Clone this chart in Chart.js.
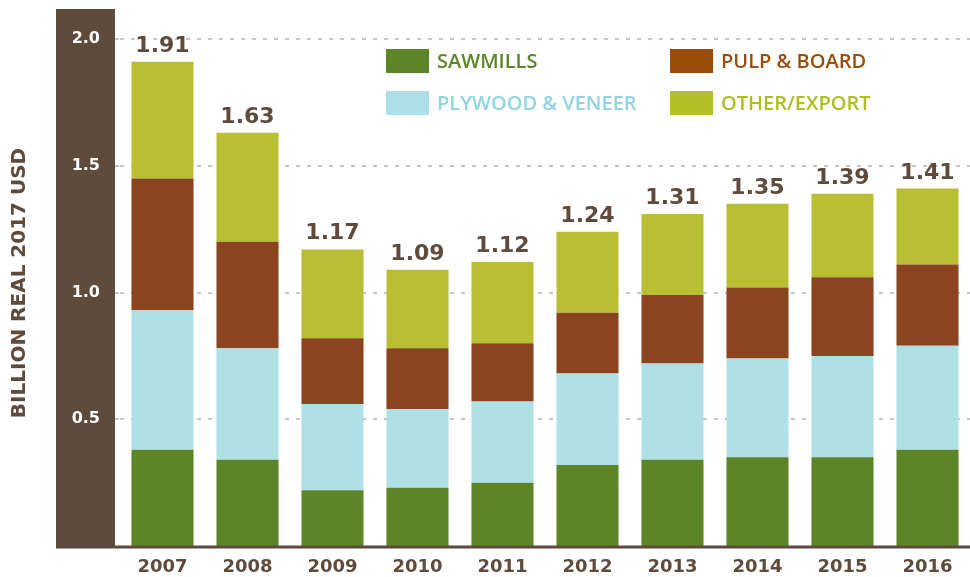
<!DOCTYPE html>
<html>
<head>
<meta charset="utf-8">
<script src="https://cdn.jsdelivr.net/npm/chart.js@4.4.1/dist/chart.umd.min.js"></script>
<style>
    html, body { margin: 0; padding: 0; background: #ffffff; }
    #wrap { width: 970px; height: 577px; position: relative; }
</style>
</head>
<body>
<div id="wrap"><canvas id="chart" width="970" height="577"></canvas></div>
<script>
// Datos (miles de millones, USD reales 2017)
const years = ['2007', '2008', '2009', '2010', '2011', '2012', '2013', '2014', '2015', '2016'];
const sawmills = [0.38, 0.34, 0.22, 0.23, 0.25, 0.32, 0.34, 0.35, 0.35, 0.38];
const plywood = [0.55, 0.44, 0.34, 0.31, 0.32, 0.36, 0.38, 0.39, 0.40, 0.41];
const pulpBoard = [0.52, 0.42, 0.26, 0.24, 0.23, 0.24, 0.27, 0.28, 0.31, 0.32];
const otherExport = [0.46, 0.43, 0.35, 0.31, 0.32, 0.32, 0.32, 0.33, 0.33, 0.30];
const totals = ['1.91', '1.63', '1.17', '1.09', '1.12', '1.24', '1.31', '1.35', '1.39', '1.41'];
const yTicks = [0.5, 1.0, 1.5, 2.0];
const yTitle = 'BILLION REAL 2017 USD';

const BROWN = '#5e4b3c';

// Leyenda en dos columnas
const legendItems = [
    { text: 'SAWMILLS', swatch: '#5b8527', color: '#5b8527', x: 386, y: 61 },
    { text: 'PULP & BOARD', swatch: '#9a4d08', color: '#9a4d08', x: 670, y: 61 },
    { text: 'PLYWOOD & VENEER', swatch: '#ade0e6', color: '#8fd4e0', x: 386, y: 103 },
    { text: 'OTHER/EXPORT', swatch: '#b3bf22', color: '#afbd21', x: 670, y: 103 }
];

// Banda oscura detrás de las etiquetas del eje Y, y título del eje
const bandPlugin = {
    id: 'band',
    beforeDraw(chart) {
        const ctx = chart.ctx;
        ctx.save();
        ctx.fillStyle = BROWN;
        ctx.fillRect(56, 9, 59, chart.chartArea.bottom + 1 - 9);

        ctx.translate(20, 283);
        ctx.rotate(-Math.PI / 2);
        ctx.font = 'bold 20px "DejaVu Sans"';
        ctx.textAlign = 'center';
        ctx.textBaseline = 'middle';
        ctx.fillText(yTitle, 0, 0);
        ctx.restore();
    }
};

// Línea base y totales encima de cada barra
const totalsPlugin = {
    id: 'totals',
    afterDatasetsDraw(chart) {
        const ctx = chart.ctx;
        const bottom = chart.chartArea.bottom;
        ctx.save();
        ctx.strokeStyle = BROWN;
        ctx.lineWidth = 3;
        ctx.beginPath();
        ctx.moveTo(56, bottom + 1);
        ctx.lineTo(chart.width, bottom + 1);
        ctx.stroke();

        const topMeta = chart.getDatasetMeta(chart.data.datasets.length - 1);
        ctx.fillStyle = BROWN;
        ctx.font = 'bold 22px "DejaVu Sans"';
        ctx.textAlign = 'center';
        ctx.textBaseline = 'alphabetic';
        topMeta.data.forEach((bar, i) => {
            ctx.fillText(totals[i], bar.x, bar.y - 10);
        });
        ctx.restore();
    }
};

const legendPlugin = {
    id: 'gridLegend',
    afterDraw(chart) {
        const ctx = chart.ctx;
        ctx.save();
        ctx.font = '600 20px "Open Sans"';
        ctx.textBaseline = 'middle';
        ctx.textAlign = 'left';
        legendItems.forEach(item => {
            ctx.fillStyle = item.swatch;
            ctx.fillRect(item.x, item.y - 12, 43, 24);
            ctx.fillStyle = item.color;
            ctx.fillText(item.text, item.x + 51, item.y + 1);
        });
        ctx.restore();
    }
};

document.addEventListener('DOMContentLoaded', function() {
    const ctx = document.getElementById('chart').getContext('2d');

    new Chart(ctx, {
        type: 'bar',
        data: {
            labels: years,
            datasets: [
                { label: 'SAWMILLS', data: sawmills, backgroundColor: '#5b8527' },
                { label: 'PLYWOOD & VENEER', data: plywood, backgroundColor: '#aee0e6' },
                { label: 'PULP & BOARD', data: pulpBoard, backgroundColor: '#8a4420' },
                { label: 'OTHER/EXPORT', data: otherExport, backgroundColor: '#b9bf33' }
            ]
        },
        options: {
            responsive: false,
            devicePixelRatio: 1,
            animation: false,
            layout: { padding: { top: 39, left: 0, right: 0, bottom: 0 } },
            datasets: {
                bar: { categoryPercentage: 1, barPercentage: 0.73, borderWidth: 0 }
            },
            scales: {
                x: {
                    stacked: true,
                    grid: { display: false, drawTicks: false },
                    border: { display: false },
                    ticks: {
                        color: BROWN,
                        padding: 11,
                        font: { family: 'DejaVu Sans', size: 18, weight: 'bold' }
                    },
                    afterFit(scale) { scale.height = 31; }
                },
                y: {
                    stacked: true,
                    min: 0,
                    max: 2,
                    afterBuildTicks(scale) {
                        scale.ticks = yTicks.map(v => ({ value: v }));
                    },
                    afterFit(scale) { scale.width = 120; },
                    grid: {
                        color: '#c6c6c6',
                        lineWidth: 2,
                        drawTicks: true,
                        tickLength: 5,
                        tickBorderDash: [4, 7]
                    },
                    border: { display: false, dash: [4, 7] },
                    ticks: {
                        color: '#ffffff',
                        crossAlign: 'center',
                        padding: 15,
                        font: { family: 'DejaVu Sans', size: 16, weight: 'bold' },
                        callback: v => v.toFixed(1)
                    },
                    title: { display: false }
                }
            },
            plugins: {
                legend: { display: false },
                tooltip: { enabled: false }
            }
        },
        plugins: [bandPlugin, totalsPlugin, legendPlugin]
    });
});
</script>
</body>
</html>
